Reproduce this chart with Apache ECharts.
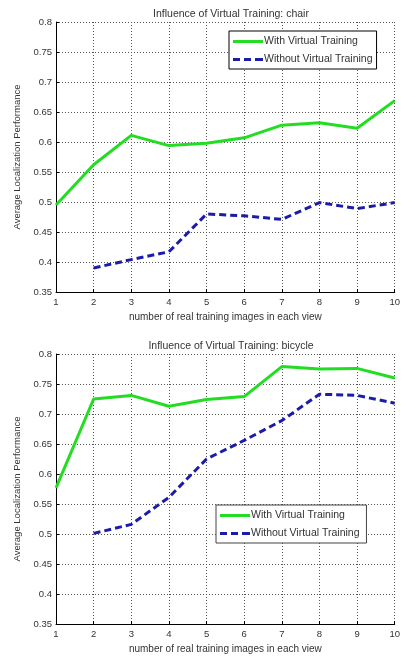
<!DOCTYPE html>
<html>
<head>
<meta charset="utf-8">
<script src="https://cdn.jsdelivr.net/npm/echarts@6/dist/echarts.min.js"></script>
<style>
  html, body { margin: 0; padding: 0; background: #fff; }
  #chart { width: 403px; height: 657px; }
</style>
</head>
<body>
<div id="chart"></div>
<script>
// number of real training images in each view
const views = [1, 2, 3, 4, 5, 6, 7, 8, 9, 10];

// chair
const chairWith = [0.495, 0.562, 0.611, 0.594, 0.598, 0.607, 0.628, 0.632, 0.623, 0.669];
const chairWithout = [null, 0.39, 0.404, 0.417, 0.48, 0.477, 0.471, 0.499, 0.489, 0.499];

// bicycle
const bikeWith = [0.577, 0.725, 0.731, 0.713, 0.724, 0.729, 0.779, 0.775, 0.776, 0.76];
const bikeWithout = [null, 0.501, 0.516, 0.561, 0.625, 0.656, 0.689, 0.733, 0.731, 0.718];

const titles = ['Influence of Virtual Training: chair', 'Influence of Virtual Training: bicycle'];
const seriesNames = ['With Virtual Training', 'Without Virtual Training'];

const font = 'Liberation Sans';
const textColor = '#333';
const green = '#22dd22';
const blue = '#1c1caa';

// legend glyphs: solid bar and dashed bar
const solidIcon = 'path://M0,0h30v3h-30z';
const dashIcon = 'path://M0,0h7v3h-7z M11,0h7v3h-7z M22,0h8v3h-8z';

const chart = echarts.init(document.getElementById('chart'));

const pair = (xs, ys) => xs.map((x, i) => [x, ys[i]]);

const gridTops = [22, 354];
const plotH = 270;

const legendBase = {
    orient: 'vertical',
    itemWidth: 30, itemHeight: 3, itemGap: 7,
    padding: [5, 4, 4, 4],
    borderWidth: 1, backgroundColor: '#fff',
    textStyle: { fontSize: 10.5, color: textColor, fontFamily: font, padding: [0, 0, 0, -4] }
};

const option = {
    animation: false,
    textStyle: { fontFamily: font },
    title: titles.map((t, i) => ({
        text: t,
        left: 226,
        textAlign: 'center',
        top: gridTops[i] - 18,
        textStyle: { fontSize: 10.5, fontWeight: 'normal', color: textColor, fontFamily: font }
    })),
    grid: gridTops.map(t => ({ left: 56, right: 4, top: t, height: plotH })),
    legend: [
        Object.assign({}, legendBase, {
            left: 229, top: 31, borderColor: '#000',
            data: [
                { name: seriesNames[0], icon: solidIcon },
                { name: seriesNames[1], icon: dashIcon }
            ]
        }),
        Object.assign({}, legendBase, {
            left: 216, top: 505, borderColor: '#444',
            data: [
                { name: seriesNames[0] + ' ', icon: solidIcon },
                { name: seriesNames[1] + ' ', icon: dashIcon }
            ]
        })
    ],
    xAxis: [0, 1].map(i => ({
        type: 'value',
        gridIndex: i,
        min: 1, max: 10, interval: 1,
        name: 'number of real training images in each view',
        nameLocation: 'middle',
        nameGap: 20,
        nameTextStyle: { fontSize: 10, color: textColor },
        axisLine: { lineStyle: { color: '#000', width: 1 } },
        axisTick: { inside: true, length: 3, lineStyle: { color: '#000' } },
        axisLabel: { fontSize: 9.5, color: textColor, margin: 5 },
        splitLine: { show: true, lineStyle: { color: '#555', type: [1, 2], width: 1 } }
    })),
    yAxis: [0, 1].map(i => ({
        type: 'value',
        gridIndex: i,
        min: 0.35, max: 0.8, interval: 0.05,
        name: 'Average Localization Performance',
        nameLocation: 'middle',
        nameGap: 32,
        nameTextStyle: { fontSize: 9.5, color: textColor },
        axisLine: { show: true, lineStyle: { color: '#000', width: 1 } },
        axisTick: { show: true, inside: true, length: 3, lineStyle: { color: '#000' } },
        axisLabel: {
            fontSize: 9.5, color: textColor, margin: 4,
            formatter: v => String(parseFloat(v.toFixed(2)))
        },
        splitLine: { show: true, lineStyle: { color: '#555', type: [1, 2], width: 1 } }
    })),
    series: [
        {
            name: seriesNames[0], type: 'line', xAxisIndex: 0, yAxisIndex: 0,
            data: pair(views, chairWith), symbol: 'none',
            lineStyle: { color: green, width: 3 }, itemStyle: { color: green }
        },
        {
            name: seriesNames[1], type: 'line', xAxisIndex: 0, yAxisIndex: 0,
            data: pair(views, chairWithout), symbol: 'none',
            lineStyle: { color: blue, width: 3, type: [7, 4] }, itemStyle: { color: blue }
        },
        {
            name: seriesNames[0] + ' ', type: 'line', xAxisIndex: 1, yAxisIndex: 1,
            data: pair(views, bikeWith), symbol: 'none',
            lineStyle: { color: green, width: 3 }, itemStyle: { color: green }
        },
        {
            name: seriesNames[1] + ' ', type: 'line', xAxisIndex: 1, yAxisIndex: 1,
            data: pair(views, bikeWithout), symbol: 'none',
            lineStyle: { color: blue, width: 3, type: [7, 4] }, itemStyle: { color: blue }
        }
    ]
};

chart.setOption(option);
</script>
</body>
</html>
